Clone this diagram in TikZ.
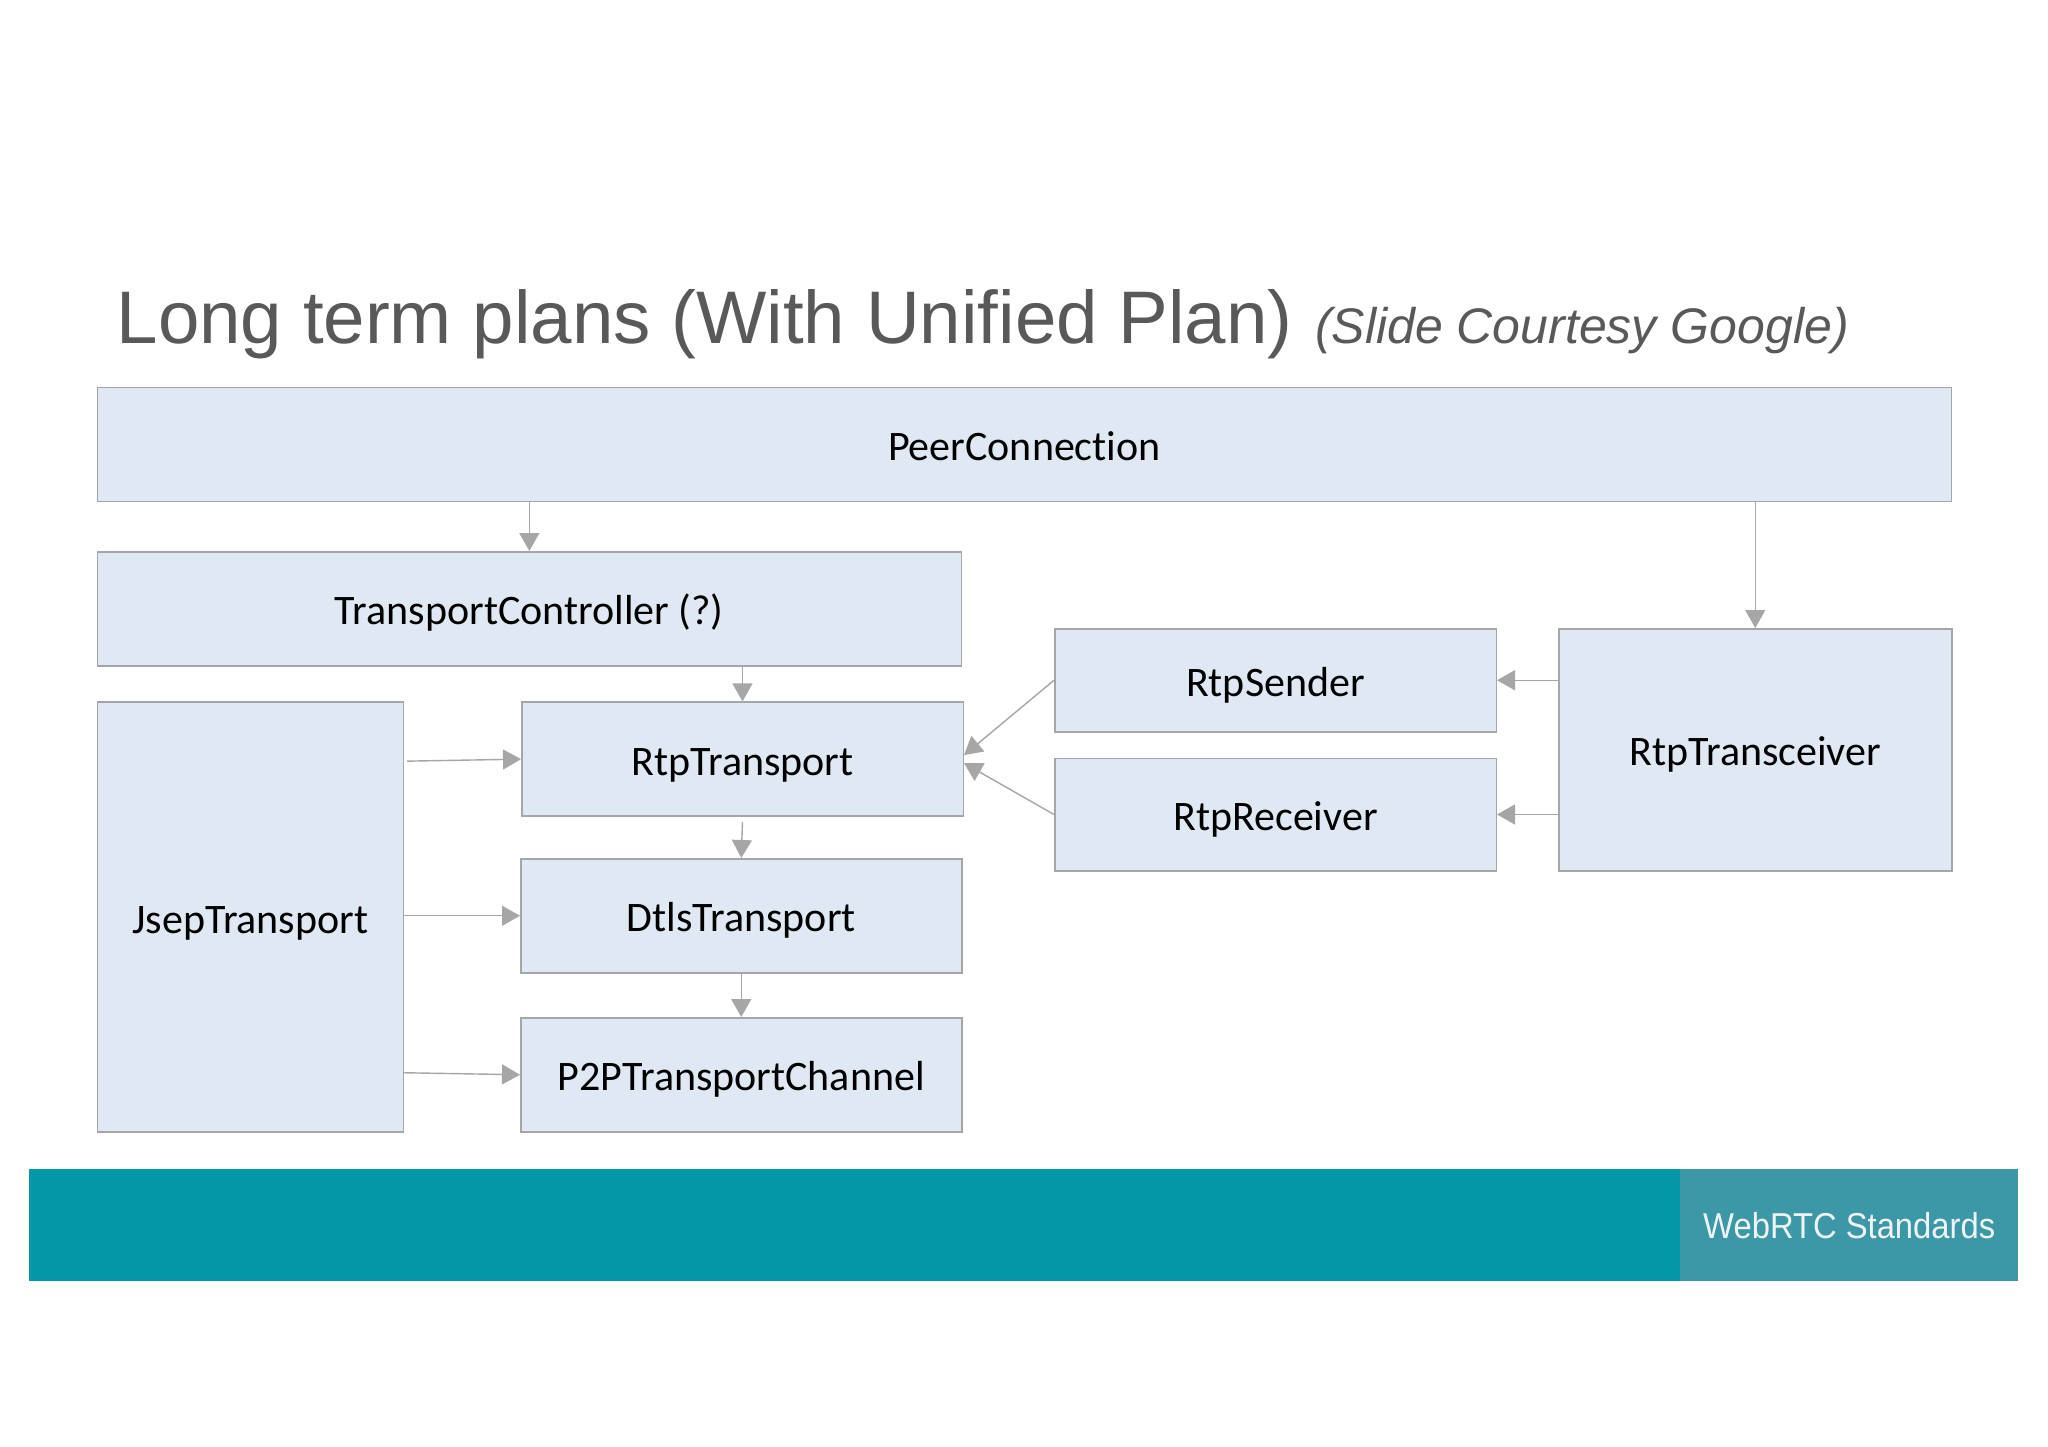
\documentclass[tikz,border=0pt]{standalone}
\usepackage{fontspec}
\setmainfont{Liberation Sans}
\newfontfamily\boxfont[Ligatures=NoCommon]{Carlito}
\usetikzlibrary{arrows.meta,calc}
\definecolor{boxfill}{HTML}{DFE8F3}
\definecolor{boxline}{HTML}{A6A6A6}
\definecolor{arrgray}{HTML}{A6A6A6}
\definecolor{titlegray}{HTML}{595959}
\definecolor{tealA}{HTML}{0397A7}
\definecolor{tealB}{HTML}{3C98A7}
\definecolor{foottext}{HTML}{EEF4F5}
\begin{document}
\begin{tikzpicture}[x=1pt,y=-1pt,
  blk/.style={draw=boxline, line width=1.5pt, fill=boxfill, anchor=north west, inner sep=0pt,
    font=\boxfont\fontsize{42}{50}\selectfont, text=black, text height=36pt, text depth=4pt},
  arr/.style={draw=arrgray, line width=1.4pt, -{Triangle[length=18pt,width=20pt]}},
  band/.style={inner sep=0pt, minimum height=112pt}]
\useasboundingbox (0,0) rectangle (2048,1447);
\fill[white] (0,0) rectangle (2048,1447);

% title
\node (title) [anchor=base west, inner sep=0pt, text=titlegray, font=\fontsize{74.5}{80}\selectfont]
  at (116.5,343) {Long term plans (With Unified Plan)};
\node (subtitle) [anchor=base west, inner sep=0pt, text=titlegray, font=\itshape\fontsize{50}{56}\selectfont]
  at (1315,343) {(Slide Courtesy Google)};

% boxes
\node (pc)   [blk, minimum width=1854pt, minimum height=114pt] at (96.6,386.6) {PeerConnection};
\node (tc)   [blk, minimum width=864pt,  minimum height=114pt] at (96.6,551)   {TransportController (?)};
\node (jsep) [blk, minimum width=306pt,  minimum height=430pt] at (96.6,701.4) {JsepTransport};
\node (rtpt) [blk, minimum width=441.5pt,minimum height=114pt] at (521,701.4)  {RtpTransport};
\node (dtls) [blk, minimum width=441pt,  minimum height=114pt] at (520,858)    {DtlsTransport};
\node (p2p)  [blk, minimum width=441pt,  minimum height=114pt] at (520,1017)   {P2PTransportChannel};
\node (snd)  [blk, minimum width=441.5pt,minimum height=103pt] at (1054,628)   {RtpSender};
\node (rcv)  [blk, minimum width=441.5pt,minimum height=112.5pt] at (1054,757.5) {RtpReceiver};
\node (trx)  [blk, minimum width=393pt,  minimum height=242pt] at (1558,628)   {RtpTransceiver};

% connectors
\draw[arr] (tc.north |- pc.south) -- (tc.north);
\draw[arr] (trx.north |- pc.south) -- (trx.north);
\draw[arr] (rtpt.north |- tc.south) -- (rtpt.north);
\draw[arr] ($(rtpt.south)+(0,5)$) -- (dtls.north);
\draw[arr] (dtls.south) -- (p2p.north);
\draw[arr] ($(jsep.east |- rtpt.west)+(3,2)$) -- (rtpt.west);
\draw[arr] (jsep.east |- dtls.west) -- (dtls.west);
\draw[arr] ($(jsep.east |- p2p.west)+(0,-2)$) -- (p2p.west);
\draw[arr] (snd.west) -- ($(rtpt.east)+(0,-4)$);
\draw[arr] (rcv.west) -- ($(rtpt.east)+(0,4)$);
\draw[arr] ($(trx.west |- snd.east)+(2,0)$) -- (snd.east);
\draw[arr] ($(trx.west |- rcv.east)+(2,0)$) -- (rcv.east);

% footer band
\node (bar) [band, fill=tealA, anchor=north west, minimum width=1989pt] at (29,1169) {};
\node (tag) [band, fill=tealB, anchor=north east, minimum width=338pt] at (bar.north east) {};
\node (tagtext) [inner sep=0pt, text=foottext, font=\fontsize{36}{40}\selectfont] at (tag.center)
  {\scalebox{0.91}[1]{WebRTC Standards}};
\end{tikzpicture}
\end{document}
